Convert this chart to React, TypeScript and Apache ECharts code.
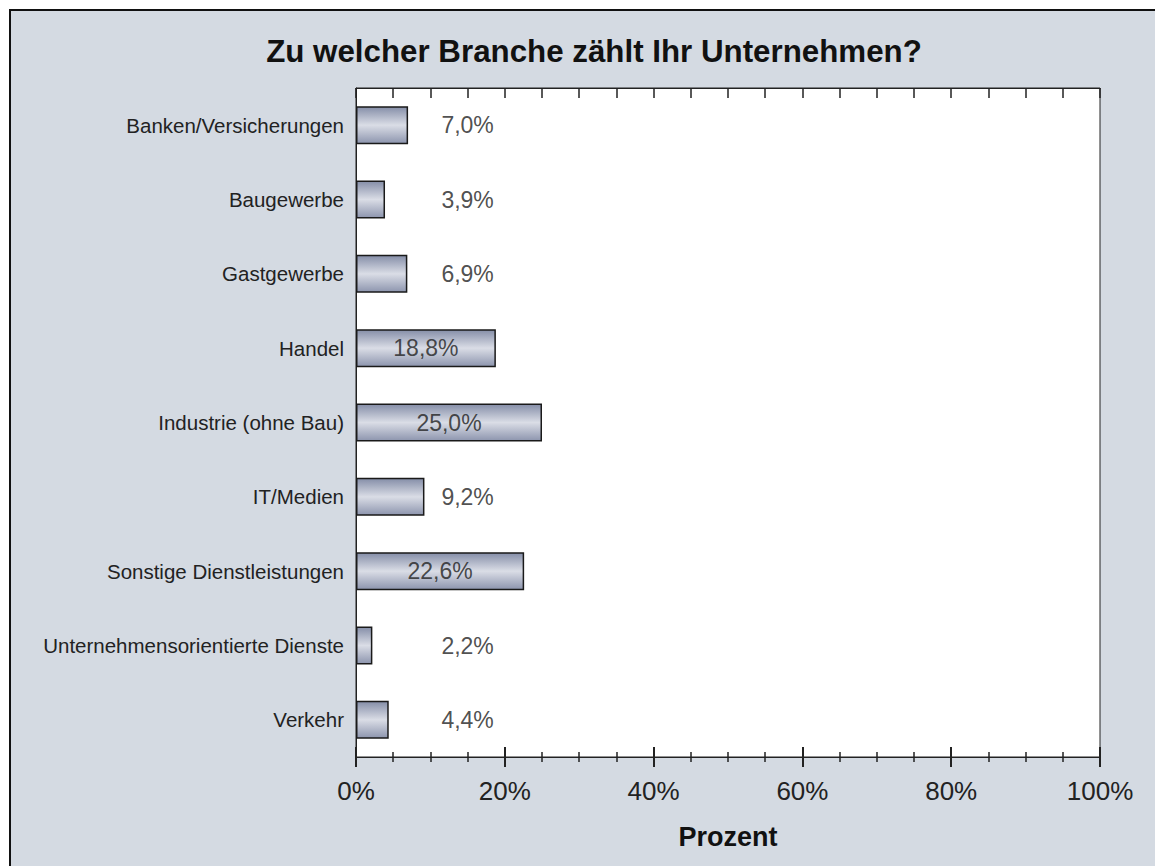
import React, { useEffect, useRef } from "react";
import * as echarts from "echarts";

const title = "Zu welcher Branche zählt Ihr Unternehmen?";
const axisName = "Prozent";
const categories = [
  "Banken/Versicherungen",
  "Baugewerbe",
  "Gastgewerbe",
  "Handel",
  "Industrie (ohne Bau)",
  "IT/Medien",
  "Sonstige Dienstleistungen",
  "Unternehmensorientierte Dienste",
  "Verkehr",
];
const values = [7.0, 3.9, 6.9, 18.8, 25.0, 9.2, 22.6, 2.2, 4.4];
const outsideLabelPos = 15; // labels of narrow bars sit at 15%
const insideThreshold = 12;

const fmt = (v: number) => v.toFixed(1).replace(".", ",") + "%";

export default function App() {
  const ref = useRef<HTMLDivElement>(null);
  useEffect(() => {
    document.body.style.margin = "0";
    document.body.style.overflow = "hidden";
    const chart = echarts.init(ref.current!, null, { renderer: "svg" });
    const labelData = values.map((v, i) => ({
      value: [v > insideThreshold ? v / 2 : outsideLabelPos, categories[i]],
      text: fmt(v),
    }));
    const font = "'Liberation Sans', Arial, sans-serif";
    chart.setOption({
      animation: false,
      backgroundColor: "transparent",
      textStyle: { fontFamily: font },
      title: {
        text: title,
        left: 589,
        textAlign: "center",
        top: 31,
        textStyle: { fontSize: 31.3, fontWeight: "bold", color: "#111", fontFamily: font },
      },
      grid: {
        left: 356,
        top: 88,
        right: 55,
        bottom: 109,
        show: true,
        backgroundColor: "#ffffff",
        borderColor: "#222",
        borderWidth: 1,
        outerBoundsMode: "none",
      },
      xAxis: [
        {
          type: "value",
          position: "bottom",
          min: 0,
          max: 100,
          interval: 20,
          splitLine: { show: false },
          axisLine: { show: true, lineStyle: { color: "#222", width: 1 } },
          axisTick: { show: true, inside: false, length: 10, lineStyle: { color: "#222", width: 2 } },
          minorTick: { show: true, splitNumber: 4, length: 5, lineStyle: { color: "#222", width: 1.5 } },
          axisLabel: {
            formatter: (v: number) => v + "%",
            fontSize: 26,
            color: "#222",
            margin: 21,
            fontFamily: font,
          },
          name: axisName,
          nameLocation: "middle",
          nameGap: 66,
          nameTextStyle: { fontSize: 27, fontWeight: "bold", color: "#111", fontFamily: font },
        },
        {
          type: "value",
          position: "bottom",
          min: 0,
          max: 100,
          interval: 20,
          splitLine: { show: false },
          axisLine: { show: false },
          axisTick: { show: true, inside: true, length: 10, lineStyle: { color: "#222", width: 2 } },
          minorTick: { show: true, splitNumber: 4, length: 5, lineStyle: { color: "#222", width: 1.5 } },
          axisLabel: { show: false },
        },
        {
          type: "value",
          position: "top",
          min: 0,
          max: 100,
          interval: 5,
          splitLine: { show: false },
          axisLine: { show: true, lineStyle: { color: "#222", width: 1 } },
          axisTick: { show: true, inside: true, length: 10, lineStyle: { color: "#222", width: 1.5 } },
          axisLabel: { show: false },
        },
      ],
      yAxis: {
        type: "category",
        data: categories,
        inverse: true,
        axisLine: { show: true, lineStyle: { color: "#222", width: 1 } },
        axisTick: { show: false },
        splitLine: { show: false },
        axisLabel: { fontSize: 20.5, color: "#222", margin: 12, fontFamily: font },
      },
      series: [
        {
          type: "bar",
          xAxisIndex: 0,
          data: values,
          barWidth: 38,
          itemStyle: {
            color: new echarts.graphic.LinearGradient(0, 0, 0, 1, [
              { offset: 0, color: "#858ea8" },
              { offset: 0.5, color: "#dadde6" },
              { offset: 1, color: "#8d95ae" },
            ]),
            borderColor: "#1a1a1a",
            borderWidth: 1.5,
          },
        },
        {
          type: "scatter",
          xAxisIndex: 0,
          data: labelData,
          symbolSize: 0,
          silent: true,
          z: 5,
          label: {
            show: true,
            position: "inside",
            formatter: (p: any) => p.data.text,
            fontSize: 23,
            color: "#222",
            fontFamily: font,
          },
        },
      ],
    });
    return () => chart.dispose();
  }, []);
  return (
    <>
      <div
        style={{
          position: "fixed",
          left: 9,
          top: 9,
          width: 1200,
          height: 900,
          border: "2px solid #111",
          background: "#d4dae2",
        }}
      />
      <div ref={ref} style={{ position: "fixed", left: 0, top: 0, width: 1155, height: 866 }} />
    </>
  );
}
